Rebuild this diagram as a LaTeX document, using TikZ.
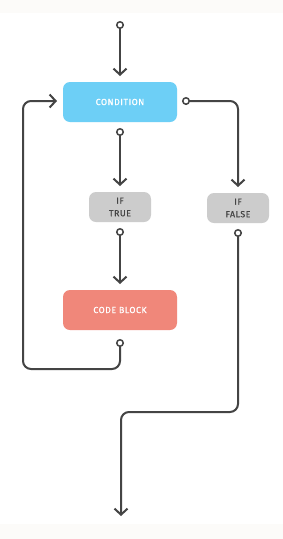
\documentclass[tikz,border=0pt]{standalone}
\usepackage{fontspec}
\usetikzlibrary{arrows.meta}
\newfontfamily\lab[LetterSpace=6,FakeBold=0.6]{Fira Sans}
\definecolor{condc}{HTML}{6DCFF6}
\definecolor{codec}{HTML}{F0877A}
\definecolor{grayc}{HTML}{CCCCCC}
\definecolor{linec}{HTML}{444444}
\definecolor{bgc}{HTML}{FCFBF9}
\begin{document}
\begin{tikzpicture}[x=1pt,y=-1pt,
  box/.style={rounded corners=7pt,inner sep=0pt,align=center,font=\lab\fontsize{8.8}{12.5}\selectfont},
  bigbox/.style={box,minimum width=114pt,minimum height=40pt,text=white},
  smallbox/.style={box,fill=grayc,minimum width=62pt,minimum height=30pt,text=linec},
  port/.style={circle,draw=linec,fill=white,line width=1.5pt,minimum size=6.5pt,inner sep=0pt},
  flow/.style={draw=linec,line width=2pt,rounded corners=8pt},
  arr/.style={flow,-{Straight Barb[length=6pt,width=13pt]}}]
\useasboundingbox (0,0) rectangle (283,539);
\fill[bgc] (0,0) rectangle (283,539);
\fill[white] (0,13) rectangle (283,524);
\node[bigbox,fill=condc] (cond) at (120,102) {CONDITION};
\node[smallbox] (iftrue) at (120,207) {IF\\TRUE};
\node[smallbox] (iffalse) at (238,208) {IF\\FALSE};
\node[bigbox,fill=codec] (code) at (120,310) {CODE BLOCK};
\node[port] (p1) at (120,25) {};
\node[port] (p2) at (120,132) {};
\node[port] (p3) at (186,101) {};
\node[port] (p4) at (120,232) {};
\node[port] (p5) at (120,343) {};
\node[port] (p6) at (238,233) {};
\coordinate (e1) at (120,76);
\coordinate (e2) at (120,186);
\coordinate (e3) at (238,187);
\coordinate (e4) at (120,284);
\coordinate (e5) at (57,101);
\coordinate (e6) at (121,516);
\coordinate (c1) at (120,369);
\coordinate (c2) at (23,369);
\coordinate (c3) at (23,101);
\coordinate (c4) at (238,412);
\coordinate (c5) at (121,412);
\draw[arr] (p1) -- (e1);
\draw[arr] (p2) -- (e2);
\draw[arr] (p3) -| (e3);
\draw[arr] (p4) -- (e4);
\draw[arr] (p5) -- (c1) -- (c2) -- (c3) -- (e5);
\draw[arr] (p6) -- (c4) -- (c5) -- (e6);
\end{tikzpicture}
\end{document}
